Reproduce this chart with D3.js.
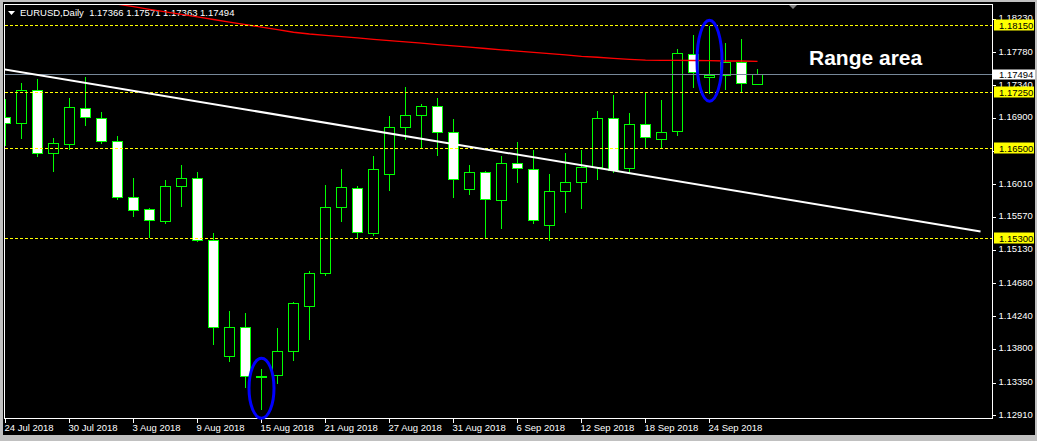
<!DOCTYPE html>
<html><head><meta charset="utf-8">
<script src="https://cdn.jsdelivr.net/npm/d3@7"></script>
<style>html,body{margin:0;padding:0;background:#c0c0c0;overflow:hidden}svg{display:block}</style>
</head><body><svg id="c" width="1037" height="441"></svg>
<script>
const symbol = "EURUSD,Daily";
const dates = ["24 Jul 2018","25 Jul 2018","26 Jul 2018","27 Jul 2018","30 Jul 2018","31 Jul 2018",
"1 Aug 2018","2 Aug 2018","3 Aug 2018","6 Aug 2018","7 Aug 2018","8 Aug 2018","9 Aug 2018","10 Aug 2018",
"13 Aug 2018","14 Aug 2018","15 Aug 2018","16 Aug 2018","17 Aug 2018","20 Aug 2018","21 Aug 2018","22 Aug 2018",
"23 Aug 2018","24 Aug 2018","27 Aug 2018","28 Aug 2018","29 Aug 2018","30 Aug 2018","31 Aug 2018",
"3 Sep 2018","4 Sep 2018","5 Sep 2018","6 Sep 2018","7 Sep 2018","10 Sep 2018","11 Sep 2018","12 Sep 2018",
"13 Sep 2018","14 Sep 2018","17 Sep 2018","18 Sep 2018","19 Sep 2018","20 Sep 2018","21 Sep 2018",
"24 Sep 2018","25 Sep 2018","26 Sep 2018","27 Sep 2018"];
const open = [1.16916,1.16835,1.17278,1.16433,1.16553,1.17036,1.16902,1.16594,1.15842,1.15681,1.15528,1.15990,1.16097,1.15265,1.13709,1.14098,1.13449,1.13454,1.13776,1.14380,1.14823,1.15708,1.15963,1.15367,1.16151,1.16782,1.16943,1.17063,1.16714,1.15950,1.16178,1.15802,1.16299,1.16218,1.15467,1.15923,1.16044,1.16253,1.16902,1.16231,1.16822,1.16621,1.16728,1.17761,1.17452,1.17479,1.17654,1.17366];
const high = [1.17179,1.17389,1.17447,1.16651,1.17188,1.17470,1.17000,1.16678,1.16115,1.15712,1.16084,1.16289,1.16195,1.15377,1.14330,1.14303,1.13556,1.14102,1.14455,1.14867,1.16021,1.16235,1.16007,1.16410,1.16947,1.17336,1.17112,1.17188,1.16902,1.16289,1.16209,1.16406,1.16598,1.16490,1.16168,1.16450,1.16490,1.17014,1.17228,1.16987,1.17255,1.17161,1.17845,1.18033,1.18154,1.17926,1.17980,1.17571];
const low = [1.16544,1.16642,1.16400,1.16195,1.16486,1.16816,1.16575,1.15824,1.15595,1.15306,1.15498,1.15730,1.15256,1.13878,1.13650,1.13297,1.13002,1.13355,1.13663,1.13945,1.14804,1.15528,1.15306,1.15341,1.15944,1.16629,1.16521,1.16414,1.15842,1.15891,1.15306,1.15434,1.16052,1.15502,1.15269,1.15649,1.15703,1.16092,1.16186,1.16186,1.16521,1.16508,1.16682,1.17326,1.17242,1.17295,1.17265,1.17363];
const close = [1.16835,1.17278,1.16433,1.16567,1.17050,1.16916,1.16594,1.15842,1.15668,1.15534,1.15990,1.16097,1.15265,1.14098,1.14098,1.13441,1.13449,1.13776,1.14420,1.14823,1.15708,1.15976,1.15381,1.16218,1.16782,1.16943,1.17063,1.16714,1.16084,1.16178,1.15815,1.16299,1.16231,1.15534,1.15923,1.16044,1.16253,1.16902,1.16213,1.16822,1.16647,1.16714,1.17774,1.17519,1.17479,1.17654,1.17372,1.17494];
const ma = [null,null,null,null,null,null,1.18468,1.18433,1.18400,1.18365,1.18331,1.18296,1.18263,1.18228,1.18194,1.18159,1.18126,1.18092,1.18057,1.18033,1.18016,1.17997,1.17980,1.17962,1.17945,1.17927,1.17910,1.17891,1.17874,1.17856,1.17839,1.17821,1.17804,1.17786,1.17769,1.17752,1.17734,1.17721,1.17707,1.17694,1.17684,1.17680,1.17680,1.17678,1.17675,1.17671,1.17671,1.17667];
const levels = [1.18150, 1.17250, 1.16500, 1.15300];
const yTicks = [1.18230,1.17780,1.17340,1.16900,1.16460,1.16010,1.15570,1.15130,1.14680,1.14240,1.13800,1.13350,1.12910];
const trendIdx = [-0.06, 60.94];
const trendPrice = [1.17558, 1.15382];
const markIdx = [16, 44];
const markPrice = [1.13280, 1.17674];
const note = "Range area";

const svg = d3.select('#c');
const W = 1037, H = 441;
const FONT = "'Liberation Sans', Arial, sans-serif";
svg.append('rect').attr('width', W).attr('height', H).attr('fill', '#c0c0c0');
svg.append('rect').attr('x', 3).attr('y', 2).attr('width', 1032).attr('height', 433).attr('fill', '#000');

const x = d3.scaleLinear().domain([0, 47]).range([5.5, 757.5]);
const y = d3.scaleLinear().domain([1.18150, 1.15300]).range([25.3, 237.7]);
const py = v => Math.round(y(v)) + 0.5;
const last = close.length - 1;

svg.append('clipPath').attr('id', 'clip').append('rect').attr('x', 5).attr('y', 5).attr('width', 987).attr('height', 413);

// axes
const yAxis = svg.append('g').attr('transform', 'translate(992.5,0)')
  .call(d3.axisRight(y).tickValues(yTicks).tickFormat(d3.format('.5f')).tickSize(3).tickPadding(3).offset(0));
const xAxis = svg.append('g').attr('transform', 'translate(0,418.5)')
  .call(d3.axisBottom(x).tickValues(d3.range(0, dates.length, 4)).tickFormat(i => dates[i]).tickSize(4).tickPadding(2).offset(0));
[yAxis, xAxis].forEach(g => {
  g.select('.domain').remove();
  g.selectAll('line').attr('stroke', '#fff').attr('shape-rendering', 'crispEdges');
  g.selectAll('text').attr('fill', '#fff').style('font-family', FONT).style('font-size', '9.5px');
});
xAxis.selectAll('text').attr('text-anchor', 'start').attr('dx', -1);
yAxis.selectAll('text').attr('dy', '0.2em');

// header
svg.append('path').attr('d', 'M8,11 L15,11 L11.5,15 Z').attr('fill', '#fff');
svg.append('text').attr('x', 20).attr('y', 15.5).attr('fill', '#fff').attr('xml:space', 'preserve')
  .style('font-family', FONT).style('font-size', '9.5px')
  .text(symbol + '  ' + [open[last], high[last], low[last], close[last]].map(d3.format('.5f')).join(' '));

const plot = svg.append('g').attr('clip-path', 'url(#clip)');
const idx = d3.range(close.length);
// wicks
plot.selectAll('line.w').data(idx).join('line').attr('class', 'w')
  .attr('x1', i => x(i)).attr('x2', i => x(i))
  .attr('y1', i => py(high[i])).attr('y2', i => py(low[i]))
  .attr('stroke', '#00ff00').attr('shape-rendering', 'crispEdges');
// bodies
plot.selectAll('rect.b').data(idx).join('rect').attr('class', 'b')
  .attr('x', i => x(i) - 5).attr('width', 10)
  .attr('y', i => Math.min(py(open[i]), py(close[i])))
  .attr('height', i => Math.max(1, Math.abs(py(open[i]) - py(close[i]))))
  .attr('fill', i => close[i] >= open[i] ? '#000' : '#fff')
  .attr('stroke', '#00ff00').attr('shape-rendering', 'crispEdges');

// moving average
plot.append('path').datum(ma)
  .attr('d', d3.line().defined(d => d != null).x((d, i) => x(i)).y(d => y(d)))
  .attr('fill', 'none').attr('stroke', '#ff0000').attr('stroke-width', 1.3);

// horizontal levels
plot.selectAll('line.lv').data(levels).join('line').attr('class', 'lv')
  .attr('x1', 5).attr('x2', 992).attr('y1', d => py(d)).attr('y2', d => py(d))
  .attr('stroke', '#ffff00').attr('stroke-dasharray', '3,2').attr('shape-rendering', 'crispEdges');
// bid line
plot.append('line').attr('x1', 5).attr('x2', 992).attr('y1', py(close[last])).attr('y2', py(close[last]))
  .attr('stroke', '#778899').attr('shape-rendering', 'crispEdges');
// trendline
plot.append('line').attr('x1', x(trendIdx[0])).attr('x2', x(trendIdx[1]))
  .attr('y1', y(trendPrice[0])).attr('y2', y(trendPrice[1]))
  .attr('stroke', '#fff').attr('stroke-width', 2);

// plot frame
svg.append('rect').attr('x', 4.5).attr('y', 4.5).attr('width', 988).attr('height', 414)
  .attr('fill', 'none').attr('stroke', '#fff').attr('shape-rendering', 'crispEdges');
svg.append('path').attr('d', 'M789,5 L797,5 L793,9 Z').attr('fill', '#808080');

// ellipses
svg.selectAll('ellipse.m').data(markIdx).join('ellipse').attr('class', 'm')
  .attr('cx', i => x(i)).attr('cy', (i, k) => y(markPrice[k]))
  .attr('rx', 12.5).attr('ry', (i, k) => k === 0 ? 30 : 40.5)
  .attr('fill', 'none').attr('stroke', '#0000ff').attr('stroke-width', 3);

// note text
svg.append('text').attr('x', 809).attr('y', 65).attr('fill', '#fff')
  .style('font-family', FONT).style('font-size', '21px').style('font-weight', 'bold').text(note);

// price labels
const lab = svg.append('g');
levels.forEach(v => {
  lab.append('rect').attr('x', 994).attr('y', py(v) - 6).attr('width', 40).attr('height', 11).attr('fill', '#ffff00');
  lab.append('text').attr('x', 999).attr('y', py(v)).attr('dy', '0.32em').attr('fill', '#000')
    .style('font-family', FONT).style('font-size', '9.5px').text(d3.format('.5f')(v));
});
lab.append('rect').attr('x', 993).attr('y', py(close[last]) - 5).attr('width', 42).attr('height', 10).attr('fill', '#fff');
lab.append('text').attr('x', 999).attr('y', py(close[last])).attr('dy', '0.32em').attr('fill', '#000')
  .style('font-family', FONT).style('font-size', '9.5px').text(d3.format('.5f')(close[last]));
</script></body></html>
